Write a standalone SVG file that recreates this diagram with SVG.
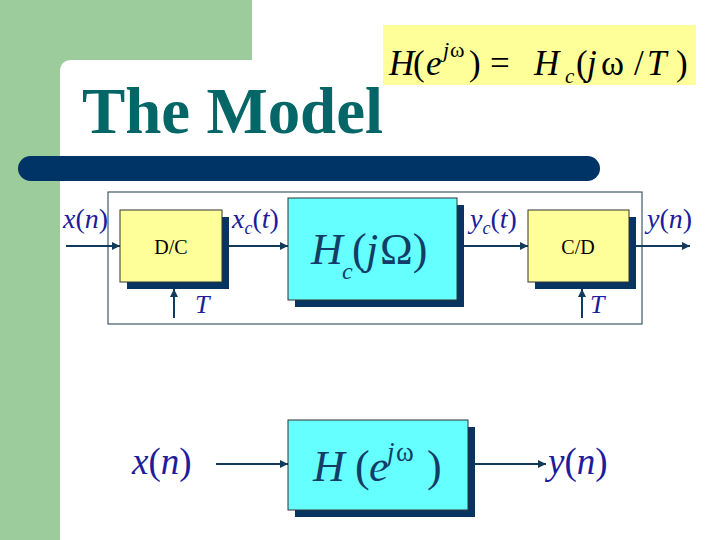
<svg xmlns="http://www.w3.org/2000/svg" width="720" height="540" viewBox="0 0 720 540">
<style>
.lbl{font-style:italic;fill:#1c1c9c}
.up{font-style:normal}
.big{fill:#123d66}
.bx{font-size:20px;fill:#000;text-anchor:middle}
.wire{stroke:#123a5c;stroke-width:2;fill:none}
.shadow{fill:#073460}
.yel{fill:#ffff99;stroke:#333;stroke-width:1}
.cyan{fill:#66ffff;stroke:#333;stroke-width:1}
</style>
<defs>
<marker id="ah" viewBox="0 0 10 10" refX="10" refY="5" markerWidth="4" markerHeight="4" orient="auto" markerUnits="strokeWidth">
<path d="M0,0 L10,5 L0,10 z" fill="#123a5c"/>
</marker>
</defs>
<!-- background -->
<rect x="0" y="0" width="720" height="540" fill="#ffffff"/>
<path d="M0,0 H252 V60 H72 Q60,60 60,72 V540 H0 Z" fill="#9ccc9c"/>
<g font-family="Liberation Serif, Times New Roman, serif">
<!-- title -->
<text x="82" y="133" font-weight="bold" font-size="66" fill="#046666" textLength="301" lengthAdjust="spacingAndGlyphs">The Model</text>
<rect x="18" y="156" width="582" height="25" rx="12.5" fill="#003366"/>
<!-- formula -->
<g id="formula">
<rect x="383" y="25" width="313" height="60" fill="#ffff99"/>
<text y="75" font-size="35" fill="#000">
<tspan x="389" font-style="italic">H</tspan><tspan x="413">(</tspan><tspan x="426" font-style="italic">e</tspan><tspan x="443" y="57" font-size="22" font-style="italic">j</tspan><tspan x="450" y="57" font-size="22">ω</tspan><tspan x="469" y="75">)</tspan><tspan x="490">=</tspan><tspan x="534" font-style="italic">H</tspan><tspan x="565" y="83" font-size="21" font-style="italic">c</tspan><tspan x="576" y="75">(</tspan><tspan x="587" font-style="italic">j</tspan><tspan x="601">ω</tspan><tspan x="634">/</tspan><tspan x="647" font-style="italic">T</tspan><tspan x="676">)</tspan>
</text>
</g>
<!-- frame -->
<rect x="108" y="192" width="534" height="132" fill="none" stroke="#1a3a4a" stroke-width="1"/>
<!-- connectors -->
<g id="connectors">
<line class="wire" x1="66" y1="246" x2="120" y2="246" marker-end="url(#ah)"/>
<line class="wire" x1="222" y1="246" x2="288" y2="246" marker-end="url(#ah)"/>
<line class="wire" x1="457" y1="246" x2="528" y2="246" marker-end="url(#ah)"/>
<line class="wire" x1="629" y1="246" x2="690" y2="246" marker-end="url(#ah)"/>
<line class="wire" x1="174" y1="318" x2="174" y2="289" marker-end="url(#ah)"/>
<line class="wire" x1="582" y1="318" x2="582" y2="289" marker-end="url(#ah)"/>
<line class="wire" x1="216" y1="464" x2="288" y2="464" marker-end="url(#ah)"/>
<line class="wire" x1="468" y1="464" x2="546" y2="464" marker-end="url(#ah)"/>
</g>
<!-- D/C -->
<g id="dc">
<rect class="shadow" x="127" y="217" width="102" height="72"/>
<rect class="yel" x="120" y="210" width="102" height="72"/>
<text class="bx" x="171" y="254">D/C</text>
</g>
<!-- Hc -->
<g id="hc">
<rect class="shadow" x="295" y="205" width="169" height="102"/>
<rect class="cyan" x="288" y="198" width="169" height="102"/>
<text class="big" y="264" font-size="44"><tspan x="311" font-style="italic">H</tspan><tspan x="342" y="279" font-size="24" font-style="italic">c</tspan><tspan x="352" y="264">(</tspan><tspan x="366" font-style="italic">j</tspan><tspan x="380">Ω)</tspan></text>
</g>
<!-- C/D -->
<g id="cd">
<rect class="shadow" x="535" y="217" width="101" height="72"/>
<rect class="yel" x="528" y="210" width="101" height="72"/>
<text class="bx" x="578" y="254">C/D</text>
</g>
<!-- H(e^jw) -->
<g id="h">
<rect class="shadow" x="295" y="427" width="180" height="90"/>
<rect class="cyan" x="288" y="420" width="180" height="90"/>
<text class="big" y="481" font-size="44"><tspan x="313" font-style="italic">H</tspan><tspan x="355">(</tspan><tspan x="369" font-style="italic">e</tspan><tspan x="387" y="461" font-size="27" font-style="italic">j</tspan><tspan x="396" y="461" font-size="27">ω</tspan><tspan x="427" y="481">)</tspan></text>
</g>
<!-- labels -->
<g id="labels">
<text class="lbl" x="63" y="228" font-size="28">x<tspan class="up">(</tspan>n<tspan class="up">)</tspan></text>
<text class="lbl" x="232" y="228" font-size="28">x<tspan font-size="18" dy="6">c</tspan><tspan class="up" dy="-6">(</tspan>t<tspan class="up">)</tspan></text>
<text class="lbl" x="195" y="313" font-size="26">T</text>
<text class="lbl" x="470" y="228" font-size="28">y<tspan font-size="18" dy="6">c</tspan><tspan class="up" dy="-6">(</tspan>t<tspan class="up">)</tspan></text>
<text class="lbl" x="647" y="228" font-size="28">y<tspan class="up">(</tspan>n<tspan class="up">)</tspan></text>
<text class="lbl" x="590" y="313" font-size="26">T</text>
<text class="lbl" x="132" y="474" font-size="37">x<tspan class="up">(</tspan>n<tspan class="up">)</tspan></text>
<text class="lbl" x="548" y="474" font-size="37">y<tspan class="up">(</tspan>n<tspan class="up">)</tspan></text>
</g>
</g>
</svg>
